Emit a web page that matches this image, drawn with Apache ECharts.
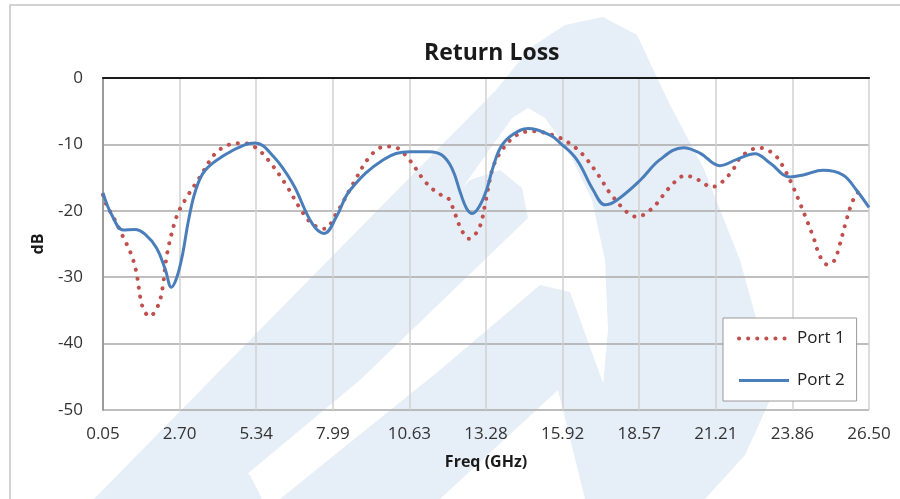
<!DOCTYPE html>
<html>
<head>
<meta charset="utf-8">
<title>Return Loss</title>
<script src="https://cdn.jsdelivr.net/npm/echarts@6/dist/echarts.min.js"></script>
<style>
    html, body { margin: 0; padding: 0; background: #fff; }
    #chart { width: 900px; height: 499px; }
</style>
</head>
<body>
<div id="chart"></div>
<script>
    // tick labels of the freq axis (GHz), one every 2.645 GHz from 0.05
    var freqTicks = ['0.05', '2.70', '5.34', '7.99', '10.63', '13.28', '15.92', '18.57', '21.21', '23.86', '26.50'];
    var freqStart = 0.05;
    var freqStep = 2.645;

    // Port 1 (dotted)
    var port1Freq = [0.05, 0.15, 0.46, 0.73, 1.0, 1.19, 1.41, 1.66, 1.94, 2.1, 2.27, 2.59, 2.88, 3.4, 3.92, 4.43, 4.9, 5.36, 5.82, 6.37, 6.85, 7.25, 7.7, 8.11, 8.69, 9.27, 9.79, 10.13, 10.59, 11.17, 11.63, 11.97, 12.2, 12.43, 12.68, 13.04, 13.27, 13.52, 13.87, 14.33, 14.85, 15.59, 16.15, 16.63, 17.2, 17.55, 18.19, 18.48, 19.02, 19.63, 20.15, 20.73, 21.01, 21.3, 21.76, 22.1, 22.71, 23.25, 23.6, 23.88, 24.13, 24.36, 24.59, 24.8, 25.06, 25.3, 25.47, 25.72, 25.91, 26.07, 26.29];
    var port1Db = [-17.6, -18.9, -21.4, -23.8, -26.3, -29.0, -34.4, -35.9, -34.4, -31.8, -26.3, -20.9, -18.4, -14.9, -11.4, -10.0, -9.8, -10.6, -12.7, -16.1, -19.6, -21.9, -22.7, -20.4, -15.9, -11.8, -10.3, -10.4, -12.1, -15.6, -17.4, -18.1, -20.4, -22.9, -24.2, -22.6, -18.4, -13.4, -10.6, -8.6, -8.0, -8.6, -9.8, -11.6, -14.9, -17.3, -20.4, -20.9, -19.6, -16.4, -14.7, -15.6, -16.4, -16.1, -14.1, -11.8, -10.5, -11.6, -13.9, -16.4, -19.0, -21.5, -24.1, -26.8, -28.1, -27.5, -25.4, -21.4, -18.8, -17.5, -16.6];

    // Port 2 (solid)
    var port2Freq = [0.05, 0.35, 0.75, 1.15, 1.5, 1.9, 2.2, 2.41, 2.6, 2.8, 3.0, 3.25, 3.58, 4.25, 4.92, 5.3, 5.93, 6.6, 7.27, 7.69, 8.11, 8.58, 9.73, 10.65, 11.3, 11.75, 12.1, 12.4, 12.6, 12.8, 13.05, 13.29, 13.52, 13.8, 14.2, 14.73, 15.49, 15.84, 16.41, 16.98, 17.39, 17.79, 18.6, 19.28, 20.09, 20.66, 21.35, 21.92, 22.56, 23.08, 23.77, 24.23, 24.92, 25.6, 26.07, 26.5];
    var port2Db = [-17.3, -20.6, -22.9, -22.8, -23.5, -25.6, -28.8, -31.5, -30.0, -26.5, -21.5, -16.9, -13.9, -11.6, -10.1, -9.8, -11.8, -15.9, -21.9, -23.4, -20.9, -16.9, -12.3, -11.1, -11.1, -11.6, -13.6, -17.4, -19.6, -20.4, -19.3, -16.9, -13.4, -10.3, -8.5, -7.6, -8.6, -9.8, -12.3, -16.9, -19.1, -18.4, -15.4, -12.3, -10.5, -11.3, -13.2, -12.3, -11.4, -12.8, -14.9, -14.6, -13.9, -14.6, -16.9, -19.5];

    var dbMin = -50, dbMax = 0, dbStep = 10;

    function toPairs(fr, db) {
        return fr.map(function (f, i) {
            return [f - freqStart, db[i]];
        });
    }

    var wm = '#e6eef7';
    var font = '"Open Sans", "Noto Sans", sans-serif';

    var Return_chart = echarts.init(document.getElementById('chart'));

    var Return_charts = {
        backgroundColor: '#fff',
        animation: false,
        title: {
            text: 'Return Loss',
            left: 419,
            top: 37,
            textStyle: { fontFamily: font, fontSize: 23, fontWeight: 'bold', color: '#1a1a1a' }
        },
        legend: {
            orient: 'vertical',
            left: 723,
            top: 318,
            padding: [12, 12, 12, 14],
            itemGap: 25,
            itemWidth: 50,
            itemHeight: 14,
            backgroundColor: '#fff',
            borderColor: '#9a9a9a',
            borderWidth: 1,
            itemStyle: { opacity: 0 },
            textStyle: { fontFamily: font, fontSize: 17, color: '#222', padding: [0, 0, 0, 3] },
            data: [
                { name: 'Port 1', lineStyle: { width: 4, cap: 'round' } },
                { name: 'Port 2', lineStyle: { width: 3 } }
            ]
        },
        grid: { left: 103, right: 31, top: 78, bottom: 89 },
        xAxis: [{
            type: 'value',
            min: 0,
            max: freqStep * 10,
            interval: freqStep,
            name: 'Freq (GHz)',
            nameLocation: 'middle',
            nameGap: 44,
            nameTextStyle: { fontFamily: font, fontSize: 16, fontWeight: 'bold', color: '#1a1a1a' },
            axisLine: { lineStyle: { color: '#8c8c8c', width: 2 } },
            axisTick: { show: false },
            axisLabel: {
                margin: 16,
                fontFamily: font, fontSize: 17, color: '#333',
                formatter: function (v) { return freqTicks[Math.round(v / freqStep)]; }
            },
            splitLine: { show: true, lineStyle: { color: '#d0d0d0', width: 1.5 } }
        }, {
            // dark line on top of the plot
            type: 'value',
            position: 'top',
            min: 0,
            max: freqStep * 10,
            interval: freqStep,
            axisLine: { lineStyle: { color: '#1a1a1a', width: 2 } },
            axisTick: { show: false },
            axisLabel: { show: false },
            splitLine: { show: false }
        }],
        yAxis: {
            type: 'value',
            min: dbMin,
            max: dbMax,
            interval: dbStep,
            name: 'dB',
            nameLocation: 'middle',
            nameGap: 57,
            nameTextStyle: { fontFamily: font, fontSize: 16, fontWeight: 'bold', color: '#1a1a1a' },
            axisLine: { show: true, lineStyle: { color: '#9a9a9a', width: 2 } },
            axisTick: { show: false },
            axisLabel: { margin: 20, fontFamily: font, fontSize: 17, color: '#333' },
            splitLine: { show: true, lineStyle: { color: '#a8a8a8', width: 1.5 } }
        },
        graphic: [
            // chart frame
            { type: 'rect', z: -20, shape: { x: 10, y: 5, width: 900, height: 510 }, style: { fill: 'none', stroke: '#c4c4c4', lineWidth: 1.5 } },
            // faint logo watermark
            { type: 'polygon', z: -10, shape: { points: [[94,499],[300,289],[496,90],[530,48],[565,25],[603,17],[637,35],[670,105],[703,167],[740,260],[762,340],[770,400],[745,455],[705,499],[593,499],[600,420],[608,330],[605,260],[592,200],[568,150],[545,118],[528,108],[512,118],[399,277],[171,499]] }, style: { fill: wm } },
            { type: 'polygon', z: -10, shape: { points: [[150,470],[320,330],[470,180],[500,170],[522,188],[528,218],[360,380],[240,480],[215,499],[170,499]] }, style: { fill: wm } },
            { type: 'polygon', z: -10, shape: { points: [[280,499],[440,370],[540,285],[570,292],[645,499],[585,499],[558,390],[440,499]] }, style: { fill: wm } },
            { type: 'polygon', z: -10, shape: { points: [[190,499],[205,475],[228,465],[250,475],[262,499]] }, style: { fill: wm } }
        ],
        series: [{
            name: 'Port 1',
            type: 'line',
            xAxisIndex: 0,
            smooth: 0.35,
            symbol: 'none',
            lineStyle: { color: '#c0504d', width: 4, type: [0.1, 9], cap: 'round' },
            itemStyle: { color: '#c0504d' },
            data: toPairs(port1Freq, port1Db),
            z: 3
        }, {
            name: 'Port 2',
            type: 'line',
            xAxisIndex: 0,
            smooth: 0.4,
            symbol: 'none',
            lineStyle: { color: '#4a7ebb', width: 3 },
            itemStyle: { color: '#4a7ebb' },
            data: toPairs(port2Freq, port2Db),
            z: 4
        }]
    };

    Return_chart.setOption(Return_charts);
</script>
</body>
</html>
